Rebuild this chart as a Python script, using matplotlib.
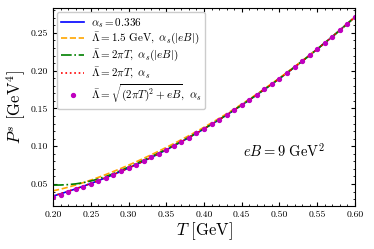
import matplotlib
matplotlib.use("Agg")
import matplotlib.pyplot as plt
from matplotlib.ticker import MultipleLocator

plt.rcParams['font.family'] = 'serif'
plt.rcParams['font.serif'] = ['cmr10']
plt.rcParams['mathtext.fontset'] = 'cm'
plt.rcParams['axes.formatter.use_mathtext'] = True

T = [0.20, 0.21, 0.22, 0.23, 0.24, 0.25, 0.26, 0.27, 0.28, 0.29,
     0.30, 0.31, 0.32, 0.33, 0.34, 0.35, 0.36, 0.37, 0.38, 0.39,
     0.40, 0.41, 0.42, 0.43, 0.44, 0.45, 0.46, 0.47, 0.48, 0.49,
     0.50, 0.51, 0.52, 0.53, 0.54, 0.55, 0.56, 0.57, 0.58, 0.59, 0.60]

P_const = [0.0340, 0.0371, 0.0403, 0.0436, 0.0471, 0.0507, 0.0545, 0.0584, 0.0625, 0.0668,
           0.0711, 0.0757, 0.0803, 0.0851, 0.0901, 0.0952, 0.1005, 0.1059, 0.1115, 0.1172,
           0.1230, 0.1290, 0.1352, 0.1414, 0.1479, 0.1545, 0.1612, 0.1681, 0.1751, 0.1823,
           0.1896, 0.1971, 0.2047, 0.2125, 0.2204, 0.2285, 0.2367, 0.2450, 0.2536, 0.2622, 0.2710]

P_fixed = [0.0410, 0.0432, 0.0458, 0.0487, 0.0518, 0.0552, 0.0588, 0.0626, 0.0666, 0.0707,
           0.0750, 0.0794, 0.0840, 0.0887, 0.0935, 0.0985, 0.1035, 0.1087, 0.1140, 0.1195,
           0.1251, 0.1309, 0.1369, 0.1430, 0.1493, 0.1557, 0.1623, 0.1691, 0.1760, 0.1831,
           0.1903, 0.1977, 0.2052, 0.2129, 0.2207, 0.2287, 0.2368, 0.2451, 0.2536, 0.2622, 0.2710]

P_2piT_run = [0.0485, 0.0487, 0.0492, 0.0502, 0.0518, 0.0540, 0.0567, 0.0600, 0.0638, 0.0680,
              0.0725, 0.0770, 0.0815, 0.0862, 0.0910, 0.0960, 0.1011, 0.1064, 0.1119, 0.1175,
              0.1233, 0.1292, 0.1353, 0.1415, 0.1480, 0.1546, 0.1613, 0.1682, 0.1752, 0.1823,
              0.1896, 0.1971, 0.2047, 0.2125, 0.2204, 0.2285, 0.2367, 0.2450, 0.2536, 0.2622, 0.2710]

P_2piT = [0.0342, 0.0373, 0.0405, 0.0438, 0.0472, 0.0508, 0.0546, 0.0585, 0.0626, 0.0668,
          0.0712, 0.0757, 0.0803, 0.0851, 0.0901, 0.0952, 0.1005, 0.1059, 0.1115, 0.1172,
          0.1230, 0.1290, 0.1352, 0.1414, 0.1479, 0.1545, 0.1612, 0.1681, 0.1751, 0.1823,
          0.1896, 0.1971, 0.2047, 0.2125, 0.2204, 0.2285, 0.2367, 0.2450, 0.2536, 0.2622, 0.2710]

P_sqrt = [0.0327, 0.0360, 0.0394, 0.0429, 0.0466, 0.0503, 0.0542, 0.0582, 0.0623, 0.0667,
          0.0711, 0.0757, 0.0803, 0.0851, 0.0901, 0.0952, 0.1005, 0.1059, 0.1115, 0.1172,
          0.1230, 0.1290, 0.1352, 0.1414, 0.1479, 0.1545, 0.1612, 0.1681, 0.1751, 0.1823,
          0.1896, 0.1971, 0.2047, 0.2125, 0.2204, 0.2285, 0.2367, 0.2450, 0.2536, 0.2622, 0.2710]

labels = [r'$\alpha_s = 0.336$',
          r'$\bar{\Lambda} = 1.5\ \mathrm{GeV},\ \alpha_s(|eB|)$',
          r'$\bar{\Lambda} = 2\pi T,\ \alpha_s(|eB|)$',
          r'$\bar{\Lambda} = 2\pi T,\ \alpha_s$',
          r'$\bar{\Lambda} = \sqrt{(2\pi T)^2 + eB},\ \alpha_s$']

fig = plt.figure(figsize=(3.74, 2.49), dpi=100)
ax = fig.add_axes([0.142, 0.173, 0.807, 0.795])

ax.plot(T, P_const, color='blue', lw=1.2, ls='-', label=labels[0])
ax.plot(T, P_fixed, color='orange', lw=1.2, ls='--', label=labels[1])
ax.plot(T, P_2piT_run, color='green', lw=1.2, ls='-.', label=labels[2])
ax.plot(T, P_2piT, color='red', lw=1.2, ls=':', label=labels[3])
ax.plot(T, P_sqrt, color='m', ls='none', marker='o', ms=2.8, label=labels[4])

ax.set_xlim(0.2, 0.6)
ax.set_ylim(0.021, 0.283)
ax.xaxis.set_major_locator(MultipleLocator(0.05))
ax.xaxis.set_minor_locator(MultipleLocator(0.01))
ax.yaxis.set_major_locator(MultipleLocator(0.05))
ax.yaxis.set_minor_locator(MultipleLocator(0.01))
ax.xaxis.set_major_formatter(plt.FuncFormatter(lambda v, p: f'{v:.2f}'))
ax.yaxis.set_major_formatter(plt.FuncFormatter(lambda v, p: f'{v:.2f}'))
ax.tick_params(which='both', direction='in', top=True, right=True, labelsize=7)
ax.tick_params(which='major', length=3)
ax.tick_params(which='minor', length=1.5)

ax.set_xlabel(r'$T\ [\mathrm{GeV}]$', fontsize=12, labelpad=1)
ax.set_ylabel(r'$P^s\ [\mathrm{GeV}^4]$', fontsize=12, labelpad=2)
ax.text(0.63, 0.25, r'$eB = 9\ \mathrm{GeV}^2$', transform=ax.transAxes, fontsize=10.5)

ax.legend(loc='upper left', fontsize=8, frameon=True, fancybox=True,
          edgecolor='0.8', framealpha=1, handlelength=2.1, labelspacing=0.12,
          handletextpad=0.6, borderaxespad=0.35, borderpad=0.35)

fig.savefig('out.png', dpi=100)
